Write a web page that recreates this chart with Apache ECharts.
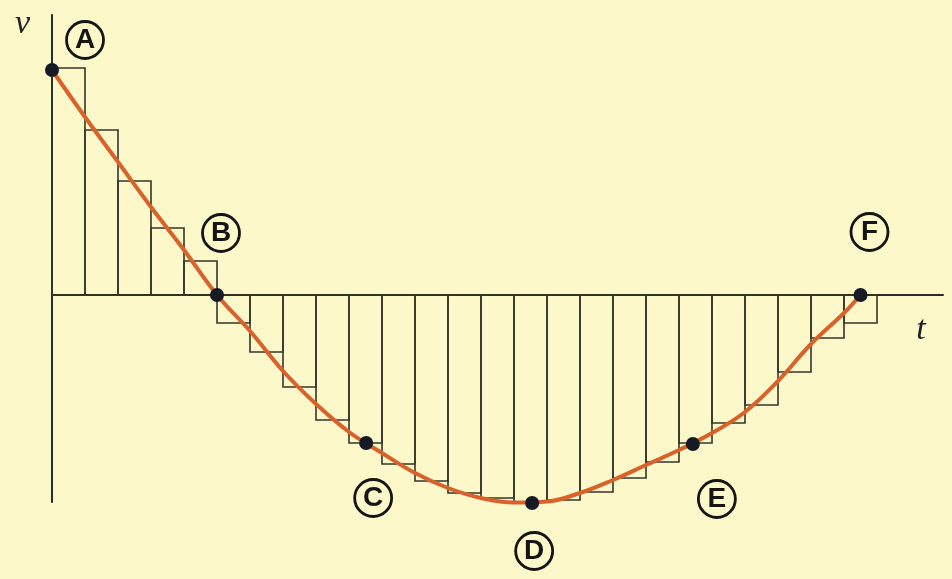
<!DOCTYPE html>
<html>
<head>
<meta charset="utf-8">
<title>v-t</title>
<script src="https://cdn.jsdelivr.net/npm/echarts@6/dist/echarts.min.js"></script>
<style>
  html, body { margin: 0; padding: 0; background: #fcf8ca; }
  #chart { width: 952px; height: 579px; }
</style>
</head>
<body>
<div id="chart"></div>
<script>
// rectangle heights, one per unit of t (t = i .. i+1)
var barValues = [22.7, 16.5, 11.4, 6.7, 3.4,
  -2.8, -5.7, -9.2, -12.5, -14.8, -16.9, -18.6, -19.8, -20.3, -20.7,
  -20.5, -19.7, -18.3, -16.7, -14.8, -12.8, -11.0, -7.7, -4.3, -2.8]

// the curve v(t)
var curveT = [0, 1, 2, 3, 4, 5, 6, 7, 8, 9, 10, 11, 12, 13, 14, 15, 16, 17, 18, 19, 20, 21, 22, 23, 24, 24.5]
var curveV = [22.5, 17.8, 13.3, 8.8, 4.5, 0, -3.6, -7.6, -10.9, -13.7, -15.8, -17.8, -19.3, -20.3, -20.75, -20.65, -19.8, -18.5, -17.0, -15.5, -13.8, -11.7, -8.6, -4.9, -1.8, 0]

// labelled points
var pointNames = ['A', 'B', 'C', 'D', 'E', 'F']
var pointT = [0, 5, 9.52, 14.55, 19.42, 24.5]
var pointV = [22.5, 0, -14.8, -20.8, -14.9, 0]

// where each circled letter sits relative to its point (px)
var labelOffsets = [[33, -30], [4, -62], [7, 55], [2, 48], [24, 55], [9, -63]]

var chart = echarts.init(document.getElementById('chart'))

chart.setOption({
  backgroundColor: '#fcf8ca',
  animation: false,
  grid: { left: 52, right: 9, top: 15, bottom: 77 },
  xAxis: {
    type: 'value',
    min: 0,
    max: 27,
    name: 't',
    nameLocation: 'end',
    nameGap: -22,
    nameTextStyle: {
      fontFamily: 'Liberation Serif',
      fontStyle: 'italic',
      fontSize: 34,
      color: '#222',
      align: 'center',
      verticalAlign: 'top',
      padding: [18, 0, 0, 0]
    },
    axisLine: { onZero: true, lineStyle: { color: '#2a2a2a', width: 2 } },
    axisTick: { show: false },
    axisLabel: { show: false },
    splitLine: { show: false }
  },
  yAxis: {
    type: 'value',
    min: -20.7,
    max: 28,
    name: 'v',
    nameLocation: 'end',
    nameGap: -26,
    nameTextStyle: {
      fontFamily: 'Liberation Serif',
      fontStyle: 'italic',
      fontSize: 34,
      color: '#222',
      align: 'right',
      padding: [0, 22, 0, 0]
    },
    axisLine: { show: true, lineStyle: { color: '#2a2a2a', width: 2 } },
    axisTick: { show: false },
    axisLabel: { show: false },
    splitLine: { show: false }
  },
  series: [{
    // the rectangles
    type: 'custom',
    z: 1,
    data: barValues.map((v, i) => [i, v]),
    renderItem: function(params, api) {
      var i = api.value(0)
      var p0 = api.coord([i, 0])
      var p1 = api.coord([i + 1, api.value(1)])
      return {
        type: 'rect',
        shape: {
          x: Math.min(p0[0], p1[0]),
          y: Math.min(p0[1], p1[1]),
          width: Math.abs(p1[0] - p0[0]),
          height: Math.abs(p1[1] - p0[1])
        },
        style: { fill: 'none', stroke: '#35352b', lineWidth: 1.6 }
      }
    }
  },
  {
    type: 'line',
    z: 2,
    smooth: 0.4,
    showSymbol: false,
    clip: false,
    lineStyle: { color: '#d9622b', width: 4 },
    data: curveT.map((t, i) => [t, curveV[i]])
  },
  {
    type: 'scatter',
    z: 3,
    clip: false,
    symbolSize: 14,
    itemStyle: { color: '#161a26', opacity: 1 },
    data: pointT.map((t, i) => ({
      value: [t, pointV[i]],
      label: {
        show: true,
        formatter: pointNames[i],
        position: 'inside',
        offset: labelOffsets[i],
        fontFamily: 'Liberation Sans',
        fontWeight: 'bold',
        fontSize: 28,
        color: '#151515',
        width: 35,
        height: 35,
        lineHeight: 37,
        align: 'center',
        verticalAlign: 'middle',
        borderColor: '#151515',
        borderWidth: 2.8,
        borderRadius: 20,
        padding: [1, 1, 1, 1]
      }
    }))
  }]
})
</script>
</body>
</html>
